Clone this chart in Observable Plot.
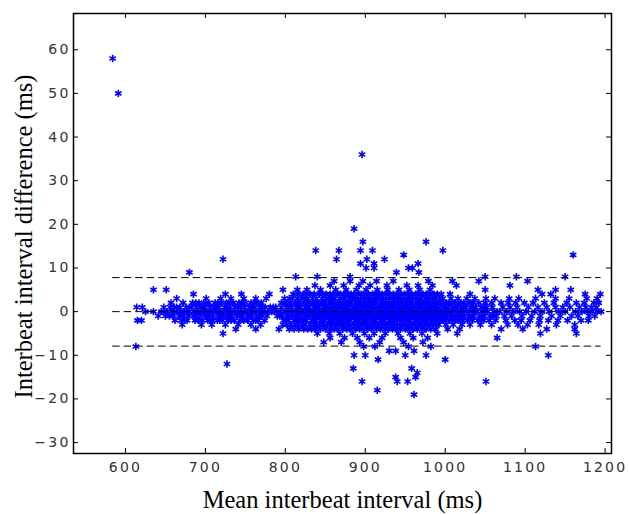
<!DOCTYPE html>
<html><head><meta charset="utf-8">
<script src="https://cdn.jsdelivr.net/npm/d3@7"></script>
<script src="https://cdn.jsdelivr.net/npm/@observablehq/plot@0.6"></script>
<style>
body{margin:0;background:#fff}
g[aria-label="x-axis tick label"] text, g[aria-label="y-axis tick label"] text{letter-spacing:2.2px}
</style>
</head><body><div id="chart"></div>
<script>
// Tick labels
const xTicks = [600, 700, 800, 900, 1000, 1100, 1200];
const yTicks = [-30, -20, -10, 0, 10, 20, 30, 40, 50, 60];
const xLabel = "Mean interbeat interval (ms)";
const yLabel = "Interbeat interval difference (ms)";
// Bias and limits of agreement (ms)
const limits = [7.8, 0, -7.9];

// Mean interbeat interval (ms) of each beat pair, grouped by interbeat interval difference (ms)
const diffP58 = [584];
const diffP50 = [591];
const diffP36 = [896];
const diffP19 = [886];
const diffP16 = [897, 976];
const diffP14 = [838, 867, 894, 909, 997];
const diffP13 = [948, 1160];
const diffP12 = [722, 864, 902, 924];
const diffP11 = [894, 911, 966];
const diffP10 = [901, 911, 954, 959];
const diffP9 = [680, 939, 967];
const diffP8 = [813, 840, 881, 1050, 1089, 1150];
const diffP7 = [861, 881, 897, 914, 935, 979, 1009, 1042, 1103];
const diffP6 = [837, 856, 873, 892, 906, 927, 952, 966, 984, 1014, 1081];
const diffP5 = [635, 651, 797, 815, 827, 844, 863, 876, 889, 901, 915, 928, 942, 955, 968, 981, 1050, 1116, 1138, 1157];
const diffP4 = [685, 725, 745, 780, 810, 822, 831, 842, 851, 860, 869, 878, 886, 895, 904, 913, 921, 930, 940, 949, 958, 967, 976, 986, 995, 1006, 1031, 1121, 1132, 1175, 1194,
  816, 827, 836, 846, 856, 865, 874, 882, 891, 900, 909, 917, 926, 935, 945, 954, 963, 972, 981, 990];
const diffP3 = [664, 701, 719, 732, 748, 763, 776, 799, 809, 820, 828, 839, 846, 854, 862, 868, 875, 884, 891, 899, 906, 912, 918, 926, 933, 939, 945, 953, 960, 966, 975, 981, 988, 997, 1007, 1016, 1027, 1037, 1051, 1062, 1080, 1092, 1113, 1138, 1155, 1177, 1190,
  805, 815, 824, 834, 851, 858, 872, 880, 887, 895, 903, 909, 915, 922, 930, 936, 942, 949, 956, 963, 970, 978, 984, 993];
const diffP2 = [657, 672, 684, 692, 698, 704, 712, 720, 726, 735, 742, 750, 757, 765, 770, 795, 800, 806, 812, 817, 823, 829, 834, 840, 845, 850, 856, 861, 866, 872, 877, 882, 888, 893, 898, 904, 909, 914, 920, 925, 930, 936, 941, 947, 952, 957, 963, 968, 973, 979, 984, 990, 995, 1001, 1006, 1012, 1017, 1023, 1029, 1035, 1042, 1050, 1058, 1070, 1079, 1088, 1099, 1110, 1124, 1136, 1152, 1164, 1174, 1186, 1192,
  688, 701, 716, 731, 746, 761, 803, 815, 826, 837, 848, 858, 869, 880, 890, 901, 911, 922, 933, 944, 955, 966, 976, 987, 998, 1009, 1020, 1032];
const diffP1 = [614, 621, 648, 656, 661, 668, 676, 683, 689, 694, 700, 706, 711, 717, 724, 731, 737, 744, 749, 755, 762, 768, 775, 781, 788, 795, 801, 808, 814, 819, 825, 830, 836, 842, 847, 852, 858, 863, 869, 874, 879, 884, 890, 895, 900, 906, 911, 917, 922, 928, 933, 939, 944, 950, 955, 960, 966, 971, 977, 982, 987, 993, 998, 1004, 1009, 1015, 1020, 1026, 1032, 1038, 1045, 1052, 1059, 1072, 1081, 1090, 1104, 1116, 1127, 1138, 1147, 1156, 1168, 1176, 1183, 1189,
  664, 680, 697, 714, 727, 741, 758, 771, 785, 805, 817, 828, 839, 849, 855, 861, 866, 872, 877, 887, 892, 898, 903, 909, 914, 920, 925, 931, 936, 942, 947, 953, 958, 963, 969, 974, 980, 985, 990, 1001, 1012, 1023, 1035, 1048];
const diff0 = [625, 635, 645, 652, 658, 664, 669, 674, 680, 686, 691, 697, 702, 707, 713, 718, 723, 729, 734, 740, 745, 751, 756, 761, 767, 772, 778, 783, 789, 794, 799, 805, 810, 816, 821, 826, 832, 837, 843, 848, 853, 859, 864, 870, 875, 880, 886, 891, 897, 902, 907, 913, 918, 924, 929, 934, 940, 945, 951, 956, 961, 967, 972, 978, 983, 988, 994, 999, 1005, 1010, 1016, 1021, 1027, 1033, 1040, 1046, 1053, 1061, 1068, 1077, 1085, 1093, 1101, 1112, 1121, 1130, 1142, 1150, 1163, 1171, 1178, 1184, 1190, 1195,
  648, 661, 677, 694, 710, 726, 737, 748, 759, 770, 786, 802, 813, 819, 829, 835, 840, 851, 856, 862, 867, 873, 878, 883, 889, 894, 900, 905, 910, 916, 921, 926, 932, 937, 943, 948, 953, 959, 964, 970, 975, 981, 986, 991, 997, 1002, 1013, 1024, 1037, 1050, 1065];
const diffM1 = [641, 650, 660, 667, 673, 679, 688, 693, 699, 705, 710, 716, 722, 727, 733, 739, 746, 752, 758, 764, 771, 777, 790, 796, 802, 808, 813, 819, 824, 830, 835, 841, 846, 851, 857, 862, 867, 873, 878, 883, 889, 894, 899, 905, 910, 915, 921, 926, 931, 937, 942, 948, 953, 958, 964, 969, 974, 980, 985, 991, 996, 1002, 1007, 1013, 1018, 1024, 1030, 1036, 1043, 1049, 1056, 1064, 1074, 1083, 1096, 1108, 1119, 1133, 1144, 1158, 1166, 1180, 1187,
  655, 670, 685, 702, 719, 730, 743, 755, 768, 793, 805, 816, 827, 838, 843, 849, 854, 860, 865, 870, 876, 881, 886, 891, 897, 902, 907, 913, 918, 923, 929, 934, 940, 945, 950, 956, 961, 966, 972, 977, 983, 988, 993, 999, 1010, 1021, 1033, 1046, 1060];
const diffM2 = [615, 620, 662, 670, 677, 687, 696, 703, 709, 715, 721, 728, 736, 743, 753, 760, 766, 774, 798, 804, 811, 818, 826, 833, 838, 844, 849, 855, 860, 865, 871, 876, 881, 887, 892, 897, 903, 908, 913, 919, 924, 930, 935, 940, 946, 951, 956, 962, 967, 972, 978, 983, 989, 994, 1000, 1005, 1011, 1016, 1022, 1028, 1034, 1041, 1048, 1055, 1063, 1076, 1087, 1095, 1106, 1118, 1129, 1141, 1153, 1170, 1179,
  674, 691, 706, 718, 732, 748, 763, 801, 814, 822, 836, 846, 857, 868, 878, 889, 900, 911, 921, 932, 943, 953, 964, 975, 986, 997, 1008, 1019, 1031, 1045];
const diffM3 = [671, 695, 708, 725, 741, 757, 769, 797, 807, 816, 825, 836, 843, 852, 859, 866, 873, 880, 887, 895, 902, 909, 916, 923, 929, 936, 943, 950, 957, 963, 970, 977, 985, 992, 1001, 1010, 1021, 1031, 1044, 1058, 1078, 1091, 1103, 1117, 1139, 1162,
  802, 812, 821, 831, 839, 848, 856, 863, 870, 877, 884, 891, 898, 905, 912, 920, 926, 933, 940, 946, 954, 960, 967, 974, 981, 989];
const diffM4 = [738, 763, 792, 805, 817, 828, 838, 850, 861, 872, 882, 893, 903, 914, 925, 934, 944, 955, 965, 976, 988, 1003, 1018, 1070, 1097, 1127, 1162,
  811, 823, 833, 844, 856, 866, 877, 888, 898, 908, 919, 929, 939, 950, 960, 971, 982];
const diffM5 = [722, 840, 855, 868, 884, 899, 911, 925, 941, 956, 971, 990, 1015, 1119, 1164];
const diffM6 = [856, 874, 890, 905, 921, 944, 960, 978, 1065];
const diffM7 = [848, 870, 893, 918, 948, 972];
const diffM8 = [613, 898, 912, 954, 982, 1113];
const diffM9 = [930, 938, 961];
const diffM10 = [886, 900, 950, 976, 1129];
const diffM11 = [916, 1000];
const diffM12 = [727];
const diffM13 = [885, 958];
const diffM14 = [965];
const diffM15 = [938, 963];
const diffM16 = [896, 940, 953, 1051];
const diffM18 = [915];
const diffM19 = [961];

const groups = [
  [58, diffP58], [50, diffP50], [36, diffP36], [19, diffP19], [16, diffP16], [14, diffP14],
  [13, diffP13], [12, diffP12], [11, diffP11], [10, diffP10], [9, diffP9], [8, diffP8],
  [7, diffP7], [6, diffP6], [5, diffP5], [4, diffP4], [3, diffP3], [2, diffP2], [1, diffP1],
  [0, diff0], [-1, diffM1], [-2, diffM2], [-3, diffM3], [-4, diffM4], [-5, diffM5],
  [-6, diffM6], [-7, diffM7], [-8, diffM8], [-9, diffM9], [-10, diffM10], [-11, diffM11],
  [-12, diffM12], [-13, diffM13], [-14, diffM14], [-15, diffM15], [-16, diffM16],
  [-18, diffM18], [-19, diffM19]
];
const points = groups.flatMap(([diff, means]) => means.map(mean => ({mean, diff})));
const xMin = d3.min(points, d => d.mean);
const xMax = d3.max(points, d => d.mean);

const W = 629, H = 515, ML = 73, MR = 18, MT = 13, MB = 62;
const frameW = W - ML - MR, frameH = H - MT - MB, tickLen = 5;
const tickFont = {fontFamily: "DejaVu Sans", fontSize: 14, fill: "#333"};
const fmt = d => String(d).replace("-", "\u2212");

const chart = Plot.plot({
  width: W,
  height: H,
  marginLeft: ML,
  marginRight: MR,
  marginTop: MT,
  marginBottom: MB,
  style: {background: "#fff", overflow: "visible"},
  x: {domain: [535, 1208]},
  y: {domain: [-32.5, 68.3]},
  marks: [
    Plot.dot(points, {x: "mean", y: "diff", symbol: "asterisk", r: 3.5, stroke: "#0000ff", strokeWidth: 1.6}),
    Plot.ruleY(limits, {y: d => d, x1: () => xMin, x2: () => xMax, stroke: "#000", strokeWidth: 1, strokeDasharray: "7.5,4"}),
    Plot.axisX(xTicks, {anchor: "bottom", tickSize: 0, tickPadding: 9, tickFormat: fmt, label: null, ...tickFont}),
    Plot.axisY(yTicks, {anchor: "left", tickSize: 0, tickPadding: 3, tickFormat: fmt, label: null, ...tickFont}),
    // inward tick marks on all four sides
    Plot.ruleX(xTicks, {x: d => d, insetTop: frameH - tickLen, stroke: "#000", strokeWidth: 1}),
    Plot.ruleX(xTicks, {x: d => d, insetBottom: frameH - tickLen, stroke: "#000", strokeWidth: 1}),
    Plot.ruleY(yTicks, {y: d => d, insetRight: frameW - tickLen, stroke: "#000", strokeWidth: 1}),
    Plot.ruleY(yTicks, {y: d => d, insetLeft: frameW - tickLen, stroke: "#000", strokeWidth: 1}),
    Plot.frame({stroke: "#000", strokeWidth: 1.5}),
    Plot.text([xLabel], {text: d => d, frameAnchor: "bottom", dy: 47, lineAnchor: "middle", textAnchor: "middle", fontFamily: "Liberation Serif", fontSize: 24.5, fill: "#000"}),
    Plot.text([yLabel], {text: d => d, frameAnchor: "left", dx: -49, dy: 3, rotate: -90, lineAnchor: "middle", textAnchor: "middle", fontFamily: "Liberation Serif", fontSize: 24.5, fill: "#000"})
  ]
});
document.getElementById("chart").appendChild(chart);
</script>
</body></html>
